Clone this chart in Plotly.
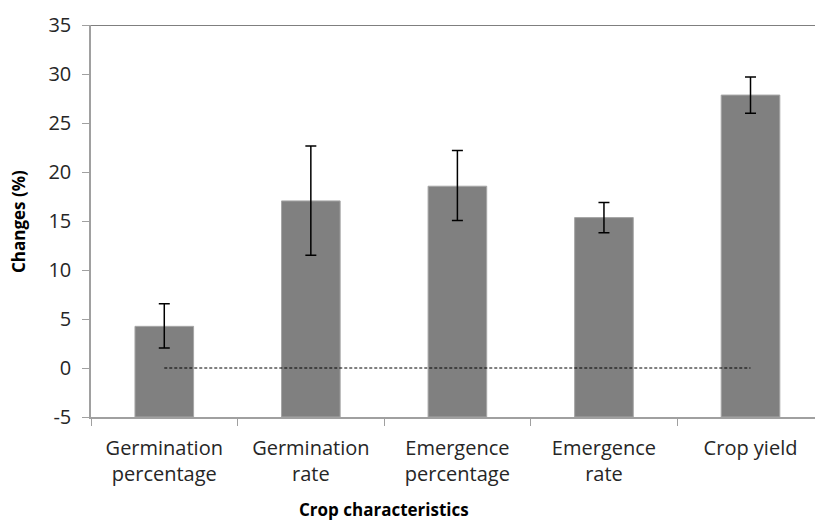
import plotly.graph_objects as go

categories = ["Germination<br>percentage", "Germination<br>rate", "Emergence<br>percentage",
              "Emergence<br>rate", "Crop yield"]
changes = [4.25, 17.05, 18.55, 15.35, 27.85]
err_plus = [2.3, 5.6, 3.65, 1.55, 1.85]
err_minus = [2.2, 5.55, 3.5, 1.55, 1.85]
axis_floor = -5
ref_line = [0, 0, 0, 0, 0]
y_ticks = [-5, 0, 5, 10, 15, 20, 25, 30, 35]
y_tick_labels = ["-5", "0", "5", "10", "15", "20", "25", "30", "35"]

font_family = "'Open Sans', sans-serif"

fig = go.Figure()
fig.add_trace(go.Bar(
    x=categories,
    y=[v - axis_floor for v in changes],
    base=axis_floor,
    width=0.4,
    marker=dict(color="#808080", line=dict(color="#a6a6a6", width=1)),
    error_y=dict(type="data", symmetric=False, array=err_plus, arrayminus=err_minus,
                 color="black", thickness=1.5, width=5.5),
    showlegend=False,
))
fig.add_trace(go.Scatter(
    x=categories, y=ref_line, mode="lines",
    line=dict(color="black", width=1, dash="3px,2px"),
    showlegend=False, hoverinfo="skip",
))

fig.update_layout(
    width=815, height=521,
    margin=dict(l=91, r=0, t=25, b=104, autoexpand=False),
    plot_bgcolor="white", paper_bgcolor="white",
    font=dict(family=font_family, size=20, color="#262626"),
    shapes=[dict(type="line", xref="paper", yref="y", x0=0, x1=1, y0=35, y1=35,
                 line=dict(color="#555555", width=1.5))],
    annotations=[
        dict(text="<b>Crop characteristics</b>", xref="paper", yref="paper",
             x=0.405, y=0, yshift=-92, xanchor="center", yanchor="middle",
             showarrow=False, font=dict(size=17, color="black")),
        dict(text="<b>Changes (%)</b>", xref="paper", yref="paper",
             x=0, xshift=-73, y=0.5, yshift=-1, textangle=-90,
             xanchor="center", yanchor="middle",
             showarrow=False, font=dict(size=17, color="black")),
    ],
)
fig.update_xaxes(
    type="category", range=[-0.5, 4.44], automargin=False,
    showline=True, linecolor="#a0a0a0", linewidth=1.5,
    ticks="outside", tickson="boundaries", ticklen=7, tickcolor="#a0a0a0",
    showgrid=False, tickfont=dict(size=20, color="#262626"),
    ticklabelstandoff=12,
)
fig.update_yaxes(
    range=[-5, 35], tickvals=y_ticks, ticktext=y_tick_labels, automargin=False,
    showline=True, linecolor="#a0a0a0", linewidth=1.5,
    ticks="outside", ticklen=7, tickcolor="#a0a0a0",
    showgrid=False, zeroline=False, tickfont=dict(size=20, color="#262626"),
    ticklabelstandoff=7,
)

fig.write_html("out.html", config={"displayModeBar": False},
               post_script="document.body.style.margin='0';document.body.style.overflow='hidden';")
